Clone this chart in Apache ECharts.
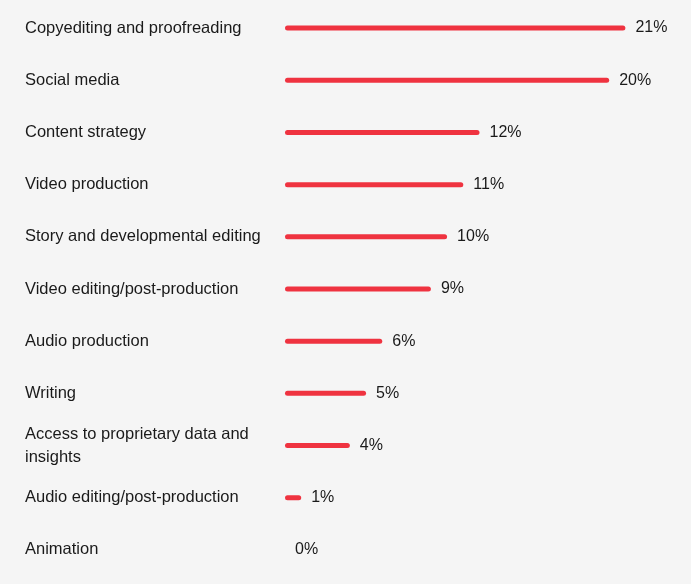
<!DOCTYPE html>
<html>
<head>
<meta charset="utf-8">
<style>
  html, body { margin: 0; padding: 0; background: #f5f5f5; }
  #chart { width: 691px; height: 584px; }
</style>
<script src="https://cdn.jsdelivr.net/npm/echarts@6/dist/echarts.min.js"></script>
</head>
<body>
<div id="chart"></div>
<script>
var categories = [
  'Copyediting and proofreading',
  'Social media',
  'Content strategy',
  'Video production',
  'Story and developmental editing',
  'Video editing/post-production',
  'Audio production',
  'Writing',
  'Access to proprietary data and\ninsights',
  'Audio editing/post-production',
  'Animation'
];
var values = [21, 20, 12, 11, 10, 9, 6, 5, 4, 1, 0];

var chart = echarts.init(document.getElementById('chart'));

var option = {
  backgroundColor: '#f5f5f5',
  animation: false,
  grid: {
    left: 285,
    right: 17,
    top: 2,
    bottom: 8
  },
  xAxis: {
    type: 'value',
    min: 0,
    max: 24,
    show: false
  },
  yAxis: {
    type: 'category',
    inverse: true,
    data: categories,
    axisLine: { show: false },
    axisTick: { show: false },
    axisLabel: {
      align: 'left',
      margin: 260,
      color: '#1a1a1a',
      fontSize: 16.5,
      lineHeight: 23,
      fontFamily: 'Liberation Sans, Arial, sans-serif'
    }
  },
  series: [{
    type: 'bar',
    data: values,
    barWidth: 5,
    itemStyle: {
      color: '#ef3340',
      borderRadius: 3
    },
    label: {
      show: true,
      position: 'right',
      distance: 10,
      formatter: '{c}%',
      color: '#1a1a1a',
      fontSize: 16,
      fontFamily: 'Liberation Sans, Arial, sans-serif'
    }
  }]
};

chart.setOption(option);
</script>
</body>
</html>
